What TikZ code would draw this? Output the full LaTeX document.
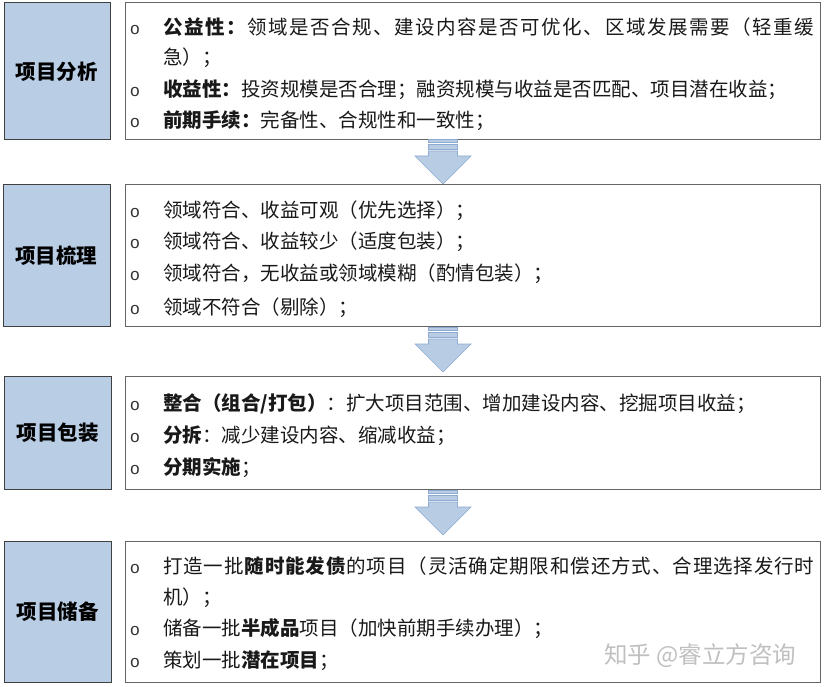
\documentclass[tikz,border=0pt]{standalone}
\usepackage{fontspec}
\setmainfont{Noto Sans CJK SC}
\newfontfamily\wideA{Noto Sans CJK SC}[LetterSpace=7.9]
\newfontfamily\wideB{Noto Sans CJK SC}[LetterSpace=4.5]
\newfontfamily\bulfont{Liberation Mono}
\definecolor{labelblue}{RGB}{185,205,229}
\definecolor{arrowfill}{RGB}{184,204,228}
\definecolor{arrowdraw}{RGB}{140,170,210}
\definecolor{wmgray}{RGB}{192,192,192}
\newcommand\blockdown[1]{%
  \filldraw[blockarrow] (428.5,#1) rectangle (457.5,{#1+3});
  \filldraw[blockarrow] (428.5,{#1+5}) rectangle (457.5,{#1+10});
  \filldraw[blockarrow] (428.5,{#1+12}) -- (457.5,{#1+12}) -- (457.5,{#1+17}) -- (471,{#1+17})
     -- (443,{#1+45}) -- (415,{#1+17}) -- (428.5,{#1+17}) -- cycle;}
\begin{document}
\begin{tikzpicture}[x=1pt,y=-1pt,
 labelbox/.style={draw=black!75, fill=labelblue, line width=1pt, inner sep=0pt,
   font=\fontsize{20.5}{24}\selectfont\bfseries},
 listbox/.style={draw=black!60, fill=white, line width=1pt, inner sep=0pt},
 itemtext/.style={inner sep=0pt, anchor=base west, font=\fontsize{19.5}{24}\selectfont, text=black!90},
 bul/.style={inner sep=0pt, anchor=base, font=\bulfont\fontsize{17}{20}\selectfont, text=black!80},
 blockarrow/.style={fill=arrowfill, draw=arrowdraw, line width=0.6pt}
]
\useasboundingbox (0,0) rectangle (825,687);
\fill[white] (0,0) rectangle (825,687);

% left labels
\node[labelbox, minimum width=106pt, minimum height=137pt] (l1) at (57,71.5) {项目分析};
\node[labelbox, minimum width=107pt, minimum height=141pt] (l2) at (56.5,255.5) {项目梳理};
\node[labelbox, minimum width=107pt, minimum height=113pt] (l3) at (57.5,432.5) {项目包装};
\node[labelbox, minimum width=107pt, minimum height=141pt] (l4) at (57.5,611.5) {项目储备};

% right boxes
\node[listbox, minimum width=695pt, minimum height=137pt] (r1) at (472.5,71.5) {};
\node[listbox, minimum width=695pt, minimum height=141pt] (r2) at (472.5,255.5) {};
\node[listbox, minimum width=695pt, minimum height=113pt] (r3) at (472.5,432.5) {};
\node[listbox, minimum width=695pt, minimum height=141pt] (r4) at (472.5,611.5) {};

% box 1
\node[bul] (b1a) at (135,34.6) {o};
\node[itemtext] (t1a) at (163,34.4) {\wideA\textbf{公益性：}领域是否合规、建设内容是否可优化、区域发展需要（轻重缓};
\node[itemtext] (t1b) at (163,64.4) {急）；};
\node[bul] (b1c) at (135,96.6) {o};
\node[itemtext] (t1c) at (163,96.4) {\textbf{收益性：}投资规模是否合理；融资规模与收益是否匹配、项目潜在收益；};
\node[bul] (b1d) at (135,127.6) {o};
\node[itemtext] (t1d) at (163,127.4) {\textbf{前期手续：}完备性、合规性和一致性；};

% box 2
\node[bul] (b2a) at (135,217.6) {o};
\node[itemtext] (t2a) at (163,217.4) {领域符合、收益可观（优先选择）；};
\node[bul] (b2b) at (135,248.6) {o};
\node[itemtext] (t2b) at (163,248.4) {领域符合、收益较少（适度包装）；};
\node[bul] (b2c) at (135,280.6) {o};
\node[itemtext] (t2c) at (163,280.4) {领域符合，无收益或领域模糊（酌情包装）；};
\node[bul] (b2d) at (135,314.6) {o};
\node[itemtext] (t2d) at (163,314.4) {领域不符合（剔除）；};

% box 3
\node[bul] (b3a) at (135,410.6) {o};
\node[itemtext] (t3a) at (163,410.4) {\textbf{整合（组合/打包）}：扩大项目范围、增加建设内容、挖掘项目收益；};
\node[bul] (b3b) at (135,442.6) {o};
\node[itemtext] (t3b) at (163,442.4) {\textbf{分拆}：减少建设内容、缩减收益；};
\node[bul] (b3c) at (135,474.6) {o};
\node[itemtext] (t3c) at (163,474.4) {\textbf{分期实施}；};

% box 4
\node[bul] (b4a) at (135,573.6) {o};
\node[itemtext] (t4a) at (163,573.4) {\wideB 打造一批\textbf{随时能发债}的项目（灵活确定期限和偿还方式、合理选择发行时};
\node[itemtext] (t4b) at (163,604.4) {机）；};
\node[bul] (b4c) at (135,635.6) {o};
\node[itemtext] (t4c) at (163,635.4) {储备一批\textbf{半成品}项目（加快前期手续办理）；};
\node[bul] (b4d) at (135,667.6) {o};
\node[itemtext] (t4d) at (163,667.4) {策划一批\textbf{潜在项目}；};

% arrows
\blockdown{139}
\blockdown{327}
\blockdown{490}

% watermark
\node[inner sep=0pt, anchor=base west, text=wmgray, font=\fontsize{23.5}{28}\selectfont] (wm) at (604,663) {知乎 @睿立方咨询};
\end{tikzpicture}
\end{document}
